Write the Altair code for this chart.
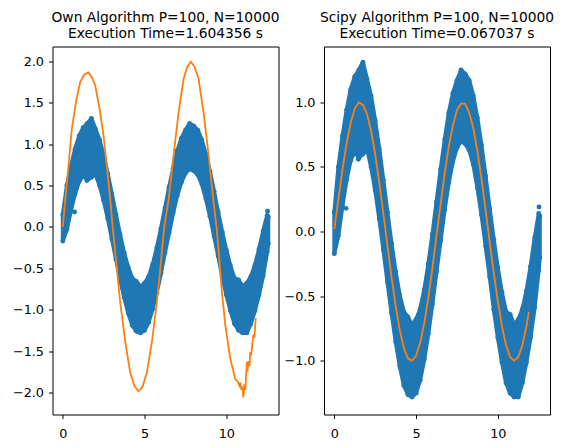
import pandas as pd
import altair as alt

band_x = [0.0, 0.25, 0.5, 0.75, 1.0, 1.25, 1.5, 1.75, 2.0, 2.25, 2.5, 2.75, 3.0, 3.25,
          3.5, 3.75, 4.0, 4.25, 4.5, 4.75, 5.0, 5.25, 5.5, 5.75, 6.0, 6.25, 6.5, 6.75,
          7.0, 7.25, 7.5, 7.75, 8.0, 8.25, 8.5, 8.75, 9.0, 9.25, 9.5, 9.75, 10.0, 10.25,
          10.5, 10.75, 11.0, 11.25, 11.5, 11.75, 12.0, 12.25, 12.5, 12.566]
band_hi = [0.15, 0.5, 0.74, 0.94, 1.1, 1.2, 1.25, 1.31, 1.18, 1.05, 0.86, 0.64, 0.4, 0.15,
           -0.09, -0.31, -0.49, -0.62, -0.66, -0.72, -0.68, -0.6, -0.45, -0.25, -0.02, 0.23, 0.48, 0.71,
           0.92, 1.07, 1.17, 1.25, 1.22, 1.17, 1.05, 0.88, 0.67, 0.43, 0.18, -0.06, -0.28, -0.47,
           -0.62, -0.64, -0.72, -0.68, -0.6, -0.46, -0.27, -0.05, 0.14, 0.12]
band_lo = [-0.17, -0.03, 0.2, 0.4, 0.55, 0.62, 0.57, 0.6, 0.64, 0.5, 0.32, 0.1, -0.14, -0.39,
           -0.63, -0.85, -1.04, -1.19, -1.26, -1.28, -1.25, -1.15, -0.99, -0.79, -0.56, -0.31, -0.07, 0.17,
           0.38, 0.54, 0.65, 0.7, 0.68, 0.63, 0.52, 0.34, 0.13, -0.11, -0.35, -0.6, -0.82, -1.01,
           -1.17, -1.25, -1.28, -1.28, -1.17, -1.01, -0.82, -0.59, -0.3, -0.2]
stray_x = [0.72, 1.47, 12.52]
stray_y = [0.18, 0.56, 0.19]

# orange curve, own algorithm
own_x = [0.0, 0.15, 0.35, 0.55, 0.82, 1.06, 1.3, 1.57, 1.8, 1.98, 2.29, 2.49, 2.69, 2.9,
         3.05, 3.31, 3.51, 3.82, 4.12, 4.4, 4.63, 4.88, 5.14, 5.45, 5.75, 5.96, 6.2, 6.47,
         6.77, 7.08, 7.39, 7.6, 7.83, 8.05, 8.3, 8.61, 8.92, 9.22, 9.4, 9.57, 9.73, 9.94,
         10.24, 10.55, 10.7, 10.8, 10.86, 10.92, 10.98, 11.04, 11.1, 11.16, 11.2, 11.26, 11.3, 11.35,
         11.42, 11.46, 11.52, 11.58, 11.64, 11.67, 11.72, 11.76, 11.8]
own_y = [0.0, 0.33, 0.74, 1.18, 1.525, 1.75, 1.84, 1.867, 1.8, 1.71, 1.38, 1.1, 0.74, 0.34,
         0.0, -0.51, -0.91, -1.39, -1.76, -1.93, -1.985, -1.93, -1.76, -1.39, -0.91, -0.51, 0.0, 0.33,
         0.86, 1.38, 1.79, 1.93, 1.996, 1.94, 1.79, 1.38, 0.86, 0.3, 0.0, -0.39, -0.79, -1.19,
         -1.59, -1.84, -1.87, -1.92, -1.88, -1.97, -1.93, -2.06, -1.9, -1.97, -1.82, -1.63, -1.75, -1.62,
         -1.68, -1.51, -1.55, -1.43, -1.33, -1.3, -1.34, -1.2, -1.1]

# orange curve, scipy
sp_x = [0.0, 0.25, 0.5, 0.75, 1.0, 1.25, 1.5, 1.75, 2.0, 2.25, 2.5, 2.75, 3.0, 3.25,
        3.5, 3.75, 4.0, 4.25, 4.5, 4.75, 5.0, 5.25, 5.5, 5.75, 6.0, 6.25, 6.5, 6.75,
        7.0, 7.25, 7.5, 7.75, 8.0, 8.25, 8.5, 8.75, 9.0, 9.25, 9.5, 9.75, 10.0, 10.25,
        10.5, 10.75, 11.0, 11.25, 11.5, 11.75, 11.9]
sp_y = [0.02, 0.25, 0.48, 0.68, 0.84, 0.95, 1.0, 0.98, 0.91, 0.78, 0.6, 0.38, 0.14, -0.11,
        -0.35, -0.57, -0.76, -0.9, -0.98, -1.0, -0.96, -0.86, -0.71, -0.51, -0.28, -0.03, 0.21, 0.45,
        0.66, 0.82, 0.94, 0.99, 0.99, 0.92, 0.8, 0.62, 0.41, 0.17, -0.08, -0.32, -0.54, -0.73,
        -0.88, -0.97, -1.0, -0.97, -0.88, -0.73, -0.62]

BLUE = '#1f77b4'
ORANGE = '#ff7f0e'
FONT = 'DejaVu Sans'

band = pd.DataFrame({'x': band_x, 'hi': band_hi, 'lo': band_lo})
dots = pd.DataFrame({
    'x': band_x + band_x + stray_x,
    'y': band_hi + band_lo + stray_y,
})
own = pd.DataFrame({'x': own_x, 'y': own_y})
sp = pd.DataFrame({'x': sp_x, 'y': sp_y})

x_enc = alt.X('x:Q', title=None,
              scale=alt.Scale(domain=[-0.63, 13.19], nice=False, zero=False),
              axis=alt.Axis(values=[0, 5, 10], format='d', labelPadding=9))


def panel(line_df, y_domain, y_ticks, title_lines):
    y_scale = alt.Scale(domain=y_domain, nice=False, zero=False)
    y_axis = alt.Axis(values=y_ticks, format='.1f')
    area = alt.Chart(band).mark_area(
        color=BLUE, stroke=BLUE, strokeWidth=4, strokeJoin='round', opacity=1
    ).encode(
        x=x_enc,
        y=alt.Y('lo:Q', title=None, scale=y_scale, axis=y_axis),
        y2='hi:Q'
    )
    pts = alt.Chart(dots).mark_circle(color=BLUE, size=24, opacity=1).encode(
        x=x_enc,
        y=alt.Y('y:Q', title=None, scale=y_scale, axis=y_axis)
    )
    line = alt.Chart(line_df).mark_line(color=ORANGE, strokeWidth=1.8).encode(
        x=x_enc,
        y=alt.Y('y:Q', title=None, scale=y_scale, axis=y_axis)
    )
    return alt.layer(area, pts, line).properties(
        width=226,
        height=368,
        title=alt.TitleParams(title_lines, fontSize=13.8, font=FONT, fontWeight='normal',
                              color='black', lineHeight=16, offset=6, anchor='middle')
    )


left = panel(own, [-2.266, 2.18], [-2.0, -1.5, -1.0, -0.5, 0.0, 0.5, 1.0, 1.5, 2.0],
             ['Own Algorithm P=100, N=10000', 'Execution Time=1.604356 s'])
right = panel(sp, [-1.415, 1.432], [-1.0, -0.5, 0.0, 0.5, 1.0],
              ['Scipy Algorithm P=100, N=10000', 'Execution Time=0.067037 s'])

chart = alt.hconcat(left, right, spacing=2.5).properties(
    padding={'left': 3.5, 'top': 1.5, 'right': 0, 'bottom': 0}
).configure_view(
    stroke='black', strokeWidth=1
).configure_axis(
    grid=False, domain=False, ticks=True, tickColor='black', tickSize=4, tickWidth=1,
    labelFont=FONT, labelFontSize=12.8, labelColor='black', labelPadding=5
)

chart.save("out.html", embed_options={"renderer": "svg", "actions": False})
